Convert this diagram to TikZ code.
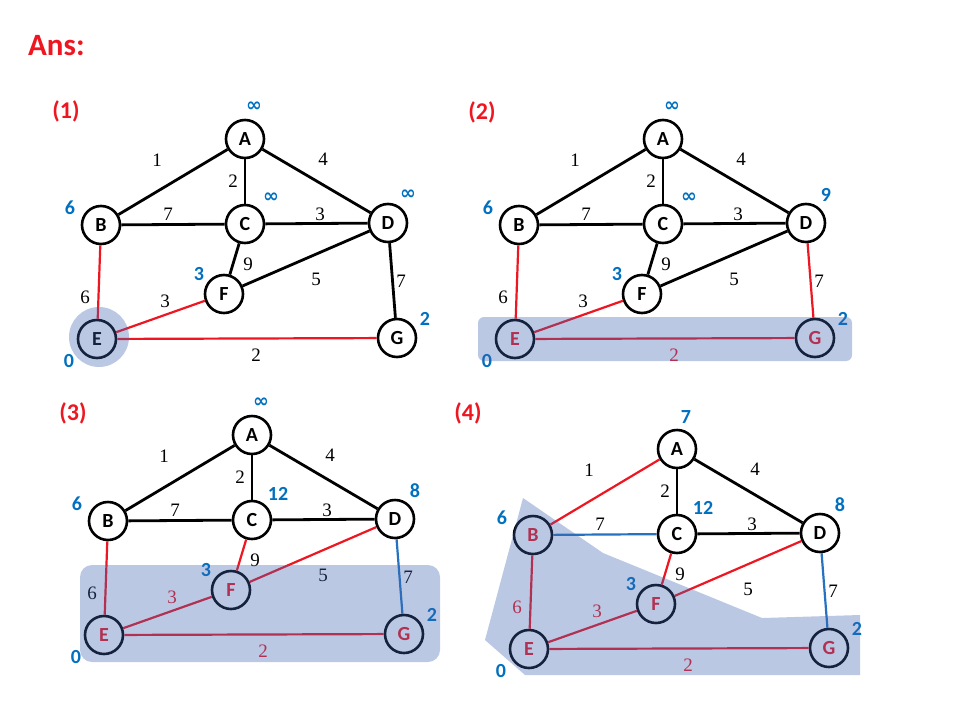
\documentclass[tikz,border=0pt]{standalone}
\usepackage{fontspec}
\newfontfamily\carl{Carlito}
\newfontfamily\tms{Liberation Serif}
\newfontfamily\djv{DejaVu Sans}
\newcommand\infsym{{\djv\bfseries\fontsize{19}{19}\selectfont ∞}}
\definecolor{dblue}{HTML}{0070C0}
\definecolor{ered}{RGB}{238,22,32}
\definecolor{eblue}{HTML}{2472C0}
\definecolor{shade}{RGB}{63,100,177}
\tikzset{
  vtx/.style={circle, draw=black, line width=2.6pt, fill=white, minimum size=38pt, inner sep=0pt,
    font=\carl\bfseries\fontsize{20}{20}\selectfont},
  wt/.style={font=\tms\fontsize{19}{19}\selectfont, inner sep=0pt},
  dist/.style={font=\carl\bfseries\fontsize{20}{20}\selectfont, text=dblue, inner sep=0pt},
  plabel/.style={font=\carl\bfseries\fontsize{24}{24}\selectfont, text=ered, inner sep=0pt},
  blk/.style={draw=black, line width=2.8pt},
  rd/.style={draw=ered, line width=2.2pt},
  bl/.style={draw=eblue, line width=2.2pt},
  ov/.style={fill=shade, fill opacity=0.35, draw=none},
  rtext/.style={text=ered},
  nA/.style={}, nB/.style={}, nC/.style={}, nD/.style={}, nE/.style={}, nF/.style={}, nG/.style={},
  eAB/.style={blk}, eAC/.style={blk}, eAD/.style={blk}, eBC/.style={blk}, eCD/.style={blk},
  eCF/.style={blk}, eFD/.style={blk}, eDG/.style={blk}, eBE/.style={blk}, eEF/.style={blk}, eEG/.style={blk},
  wAB/.style={}, wAC/.style={}, wAD/.style={}, wBC/.style={}, wCD/.style={},
  wCF/.style={}, wFD/.style={}, wDG/.style={}, wBE/.style={}, wEF/.style={}, wEG/.style={}
}
% #1 suffix, #2..#8 distances of A,B,C,D,E,F,G
\newcommand\graphpanel[8]{%
  \node[vtx,nA] (A#1) at (245,139) {A};
  \node[vtx,nB] (B#1) at (101,225) {B};
  \node[vtx,nC] (C#1) at (245,224) {C};
  \node[vtx,nD] (D#1) at (388,223) {D};
  \node[vtx,nE] (E#1) at (97,339) {E};
  \node[vtx,nF] (F#1) at (224,294) {F};
  \node[vtx,nG] (G#1) at (397,338) {G};
  \draw[eAB] (A#1) -- (B#1);
  \draw[eAC] (A#1) -- (C#1);
  \draw[eAD] (A#1) -- (D#1);
  \draw[eBC] (B#1) -- (C#1);
  \draw[eCD] (C#1) -- (D#1);
  \draw[eCF] (C#1) -- (F#1);
  \draw[eFD] (F#1) -- (D#1);
  \draw[eDG] (D#1) -- (G#1);
  \draw[eBE] (B#1) -- (E#1);
  \draw[eEF] (E#1) -- (F#1);
  \draw[eEG] (E#1) -- (G#1);
  \node[wt,wAB] (wAB#1) at (157,160) {1};
  \node[wt,wAD] (wAD#1) at (323,159) {4};
  \node[wt,wAC] (wAC#1) at (233,181) {2};
  \node[wt,wBC] (wBC#1) at (168,214) {7};
  \node[wt,wCD] (wCD#1) at (320,214) {3};
  \node[wt,wCF] (wCF#1) at (248,264) {9};
  \node[wt,wFD] (wFD#1) at (316,279) {5};
  \node[wt,wDG] (wDG#1) at (401,281) {7};
  \node[wt,wBE] (wBE#1) at (85,297) {6};
  \node[wt,wEF] (wEF#1) at (165,301) {3};
  \node[wt,wEG] (wEG#1) at (256,355) {2};
  \node[dist] (dA#1) at (254,107) {#2};
  \node[dist] (dB#1) at (70,208) {#3};
  \node[dist] (dC#1) at (271,198) {#4};
  \node[dist] (dD#1) at (408,195) {#5};
  \node[dist] (dE#1) at (69,361) {#6};
  \node[dist] (dF#1) at (199,274) {#7};
  \node[dist] (dG#1) at (425,319) {#8};
}
\begin{document}
\begin{tikzpicture}[x={(1pt,0)}, y={(0,-1pt)}]
\useasboundingbox[fill=white] (0,0) rectangle (960,720);
\node[font=\carl\bfseries\fontsize{31}{31}\selectfont, text=ered, inner sep=0pt, anchor=base west] (title) at (28,55) {Ans:};
\node[plabel] (p1) at (66,111) {(1)};
\node[plabel] (p2) at (482,112) {(2)};
\node[plabel] (p3) at (73,413) {(3)};
\node[plabel] (p4) at (468,413) {(4)};
% panel 1
\begin{scope}[eBE/.style={rd}, eEF/.style={rd}, eEG/.style={rd}]
  \graphpanel{1}{\infsym}{6}{\infsym}{\infsym}{0}{3}{2}
  \fill[ov] (99,337) circle (30);
\end{scope}
% panel 2
\begin{scope}[shift={(418,0)}, eBE/.style={rd}, eEF/.style={rd}, eEG/.style={rd}, eDG/.style={rd},
    nE/.style={rtext}, nG/.style={rtext}, wEG/.style={rtext}]
  \graphpanel{2}{\infsym}{6}{\infsym}{9}{0}{3}{2}
  \fill[ov, rounded corners=6] (60,317) rectangle (434,361);
\end{scope}
% panel 3
\begin{scope}[shift={(7,296)}, eBE/.style={rd}, eEF/.style={rd}, eEG/.style={rd}, eCF/.style={rd},
    eFD/.style={rd}, eDG/.style={bl},
    nE/.style={rtext}, nG/.style={rtext}, nF/.style={rtext}, wEG/.style={rtext}, wEF/.style={rtext}]
  \graphpanel{3}{\infsym}{6}{12}{8}{0}{3}{2}
  \fill[ov, rounded corners=12] (73,269) rectangle (433,366);
\end{scope}
% panel 4
\begin{scope}[shift={(432,310)}, eAB/.style={rd}, eBE/.style={rd}, eEF/.style={rd}, eEG/.style={rd},
    eCF/.style={rd}, eFD/.style={rd}, eBC/.style={bl}, eDG/.style={bl},
    nB/.style={rtext}, nE/.style={rtext}, nG/.style={rtext}, nF/.style={rtext},
    wEG/.style={rtext}, wEF/.style={rtext}, wBE/.style={rtext}]
  \graphpanel{4}{7}{6}{12}{8}{0}{3}{2}
  \fill[ov] (91,188) -- (171,243) -- (330,308) -- (428,305) -- (428,365) -- (93,365) -- (53,330) -- cycle;
\end{scope}
\end{tikzpicture}
\end{document}
